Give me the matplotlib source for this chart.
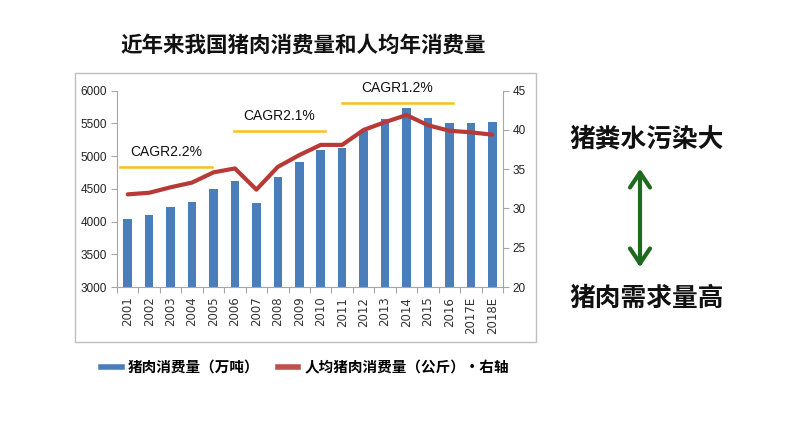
import numpy as np
import matplotlib
matplotlib.use("Agg")
import matplotlib.pyplot as plt
from matplotlib.lines import Line2D

plt.rcParams['font.family'] = ['Noto Sans CJK SC', 'DejaVu Sans']

years = ["2001", "2002", "2003", "2004", "2005", "2006", "2007", "2008", "2009",
         "2010", "2011", "2012", "2013", "2014", "2015", "2016", "2017E", "2018E"]
consumption = [4040, 4105, 4215, 4305, 4500, 4620, 4285, 4685, 4905,
               5100, 5120, 5390, 5560, 5730, 5585, 5500, 5500, 5515]
per_capita = [31.8, 32.0, 32.7, 33.3, 34.6, 35.1, 32.4, 35.3, 36.8,
              38.1, 38.1, 40.0, 41.0, 41.9, 40.6, 39.9, 39.7, 39.4]
cagr_labels = ["CAGR2.2%", "CAGR2.1%", "CAGR1.2%"]
cagr_spans = [(-0.35, 3.95), (4.95, 9.2), (10.0, 15.15)]
cagr_levels = [4830, 5390, 5815]

bar_color = "#4a7ebb"
line_color = "#b83a36"
gold = "#f7c21a"
axis_gray = "#a6a6a6"

fig = plt.figure(figsize=(7.94, 4.47), dpi=100)

# chart frame
frame = plt.Rectangle((75 / 794, 1 - 342 / 447), 461 / 794, 269 / 447,
                      transform=fig.transFigure, fill=False,
                      edgecolor="#bfbfbf", lw=1.0)
fig.patches.append(frame)

ax = fig.add_axes([117 / 794, 1 - 287 / 447, 386 / 794, 196.3 / 447])
x = np.arange(len(years))
ax.bar(x, consumption, width=0.4, color=bar_color, zorder=2)
ax.set_xlim(-0.5, len(years) - 0.5)
ax.set_ylim(3000, 6000)
ax.set_yticks(np.arange(3000, 6001, 500))
ax.set_xticks(np.arange(-0.5, len(years), 1), minor=False)
ax.set_xticklabels([])
ax.set_xticks(x, minor=True)
ax.set_xticklabels(years, minor=True, rotation=90, fontsize=8.5,
                   family="DejaVu Sans", color="#333333")
ax.tick_params(axis="x", which="minor", length=0, pad=7)
ax.tick_params(axis="x", which="major", length=4, color=axis_gray)
ax.tick_params(axis="y", length=4, color=axis_gray, labelsize=8.5,
               labelcolor="#222222", pad=3)
for lab in ax.get_yticklabels():
    lab.set_family("Liberation Sans")
for s in ["top", "right"]:
    ax.spines[s].set_visible(False)
for s in ["left", "bottom"]:
    ax.spines[s].set_color(axis_gray)

# CAGR markers
for lab, (x0, x1), lvl in zip(cagr_labels, cagr_spans, cagr_levels):
    ax.plot([x0, x1], [lvl, lvl], color=gold, lw=1.8, zorder=3)
    ax.text((x0 + x1) / 2, lvl + 230, lab, ha="center", va="center",
            fontsize=10, family="Liberation Sans", color="#111111")

ax2 = ax.twinx()
ax2.plot(x, per_capita, color=line_color, lw=3, zorder=4,
         solid_capstyle="round", solid_joinstyle="round")
ax2.set_ylim(20, 45)
ax2.set_yticks(np.arange(20, 46, 5))
ax2.tick_params(axis="y", length=4, color=axis_gray, labelsize=8.5,
                labelcolor="#222222", pad=3)
for lab in ax2.get_yticklabels():
    lab.set_family("Liberation Sans")
for s in ["top", "left", "bottom"]:
    ax2.spines[s].set_visible(False)
ax2.spines["right"].set_color(axis_gray)

# legend
handles = [Line2D([0], [0], color=bar_color, lw=4),
           Line2D([0], [0], color="#c0504d", lw=4)]
fig.legend(handles, ["猪肉消费量（万吨）", "人均猪肉消费量（公斤）•右轴"],
           loc="center left", bbox_to_anchor=(88 / 794, 1 - 367 / 447),
           ncol=2, frameon=False, handlelength=1.4,
           handletextpad=0.4, columnspacing=1.3,
           prop={"family": ['Noto Sans CJK SC', 'DejaVu Sans'],
                 "weight": "bold", "size": 10.5})

fig.text(303 / 794, 1 - 45 / 447, "近年来我国猪肉消费量和人均年消费量",
         ha="center", va="center", fontsize=15.5, fontweight="bold",
         color="#111111")

# right side annotation
fig.text(647 / 794, 1 - 139 / 447, "猪粪水污染大", ha="center", va="center",
         fontsize=18.5, fontweight="bold", color="#111111")
fig.text(647 / 794, 1 - 298 / 447, "猪肉需求量高", ha="center", va="center",
         fontsize=18.5, fontweight="bold", color="#111111")
fig.add_artist(matplotlib.patches.FancyArrowPatch(
    (640 / 794, 1 - 270 / 447), (640 / 794, 1 - 166 / 447),
    transform=fig.transFigure, arrowstyle="<->,head_length=0.9,head_width=0.6",
    color="#1e6b1e", lw=3, mutation_scale=12))

plt.savefig("out.png", dpi=100)
plt.close("all")
